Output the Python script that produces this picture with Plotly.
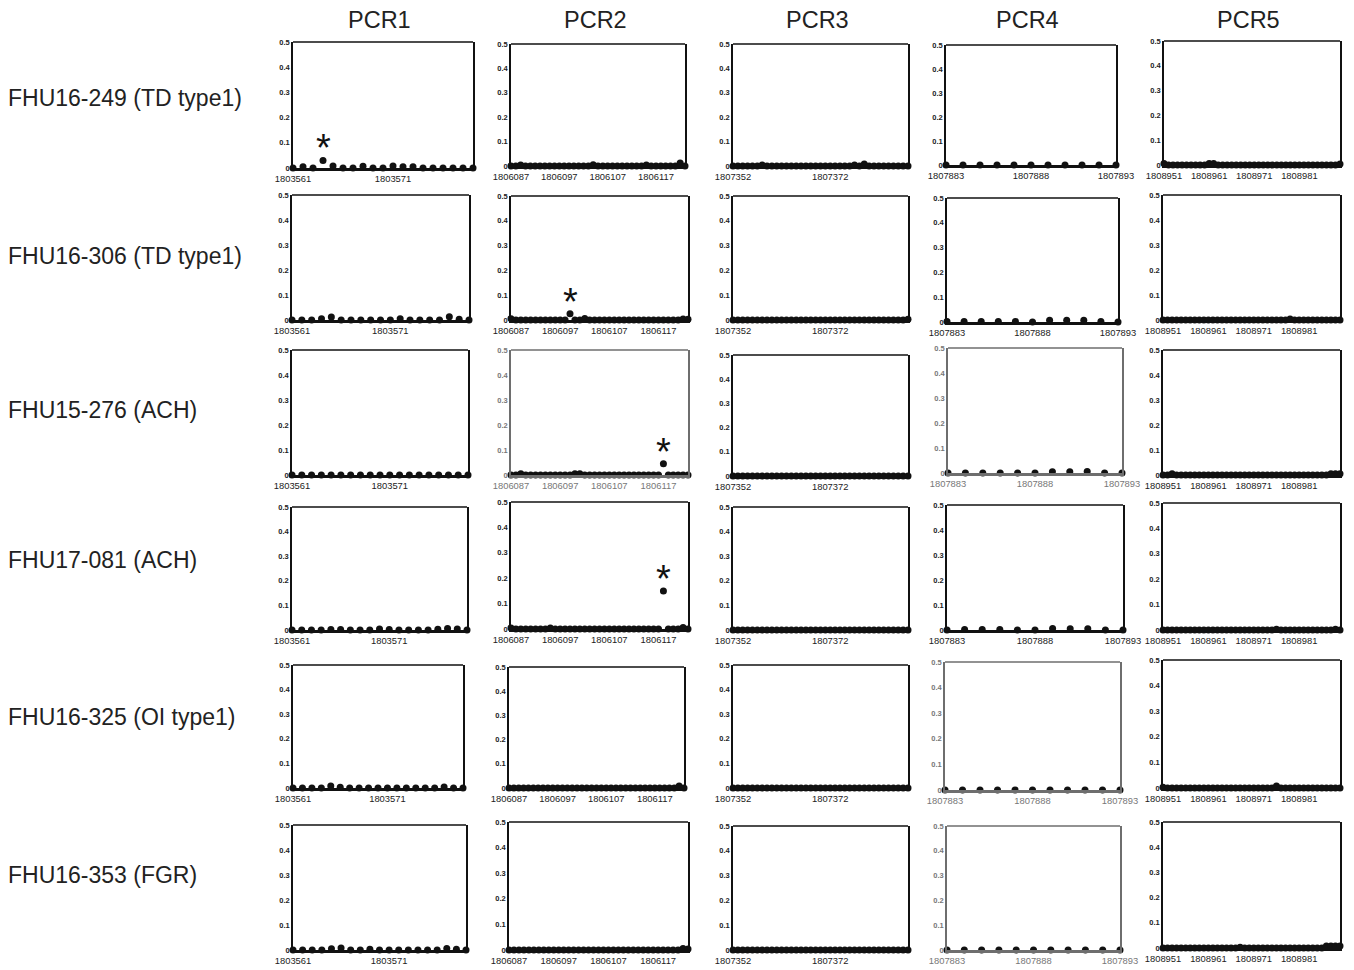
import plotly.graph_objects as go

# ---------------- data ----------------
row_labels = ["FHU16-249 (TD type1)", "FHU16-306 (TD type1)", "FHU15-276 (ACH)",
              "FHU17-081 (ACH)", "FHU16-325 (OI type1)", "FHU16-353 (FGR)"]
col_titles = ["PCR1", "PCR2", "PCR3", "PCR4", "PCR5"]

pos_pcr1 = [1803561, 1803562, 1803563, 1803564, 1803565, 1803566, 1803567, 1803568, 1803569, 1803570,
            1803571, 1803572, 1803573, 1803574, 1803575, 1803576, 1803577, 1803578, 1803579]
pos_pcr2 = [1806087, 1806088, 1806089, 1806090, 1806091, 1806092, 1806093, 1806094, 1806095, 1806096,
            1806097, 1806098, 1806099, 1806100, 1806101, 1806102, 1806103, 1806104, 1806105, 1806106,
            1806107, 1806108, 1806109, 1806110, 1806111, 1806112, 1806113, 1806114, 1806115, 1806116,
            1806117, 1806118, 1806119, 1806120, 1806121, 1806122, 1806123]
pos_pcr3 = [1807352, 1807353, 1807354, 1807355, 1807356, 1807357, 1807358, 1807359, 1807360, 1807361,
            1807362, 1807363, 1807364, 1807365, 1807366, 1807367, 1807368, 1807369, 1807370, 1807371,
            1807372, 1807373, 1807374, 1807375, 1807376, 1807377, 1807378, 1807379, 1807380, 1807381,
            1807382, 1807383, 1807384, 1807385, 1807386, 1807387, 1807388]
pos_pcr4 = [1807883, 1807884, 1807885, 1807886, 1807887, 1807888, 1807889, 1807890, 1807891, 1807892, 1807893]
pos_pcr5 = [1808951, 1808952, 1808953, 1808954, 1808955, 1808956, 1808957, 1808958, 1808959, 1808960,
            1808961, 1808962, 1808963, 1808964, 1808965, 1808966, 1808967, 1808968, 1808969, 1808970,
            1808971, 1808972, 1808973, 1808974, 1808975, 1808976, 1808977, 1808978, 1808979, 1808980,
            1808981, 1808982, 1808983, 1808984, 1808985, 1808986, 1808987, 1808988, 1808989, 1808990]

tick_pcr1 = [1803561, 1803571]
tick_pcr2 = [1806087, 1806097, 1806107, 1806117]
tick_pcr3 = [1807352, 1807372]
tick_pcr4 = [1807883, 1807888, 1807893]
tick_pcr5 = [1808951, 1808961, 1808971, 1808981]

y_ticks = [0, 0.1, 0.2, 0.3, 0.4, 0.5]

# row 1: FHU16-249
r1_pcr1 = [0, 0.005, 0, 0.03, 0.008, 0, 0, 0.007, 0, 0, 0.008, 0.005, 0.005, 0, 0, 0, 0, 0, 0]
r1_pcr2 = [0, 0, 0.004, 0, 0, 0, 0, 0, 0, 0, 0, 0, 0, 0, 0, 0, 0, 0.005, 0, 0,
           0, 0, 0, 0, 0, 0, 0, 0, 0.004, 0, 0, 0, 0, 0, 0, 0.012, 0]
r1_pcr3 = [0, 0, 0, 0, 0, 0, 0.004, 0, 0, 0, 0, 0, 0, 0, 0, 0, 0, 0, 0, 0,
           0, 0, 0, 0, 0, 0.004, 0, 0.008, 0, 0, 0, 0, 0, 0, 0, 0, 0]
r1_pcr4 = [0, 0, 0, 0, 0, 0, 0, 0, 0, 0, 0]
r1_pcr5 = [0.006, 0, 0, 0, 0, 0, 0, 0, 0, 0, 0.006, 0.006, 0, 0, 0, 0, 0, 0, 0, 0,
           0, 0, 0, 0, 0, 0, 0, 0, 0, 0, 0, 0, 0, 0, 0, 0, 0, 0, 0, 0.004]

# row 2: FHU16-306
r2_pcr1 = [0, 0, 0, 0.005, 0.012, 0, 0, 0, 0, 0, 0, 0.005, 0, 0, 0, 0, 0.013, 0.003, 0]
r2_pcr2 = [0.005, 0, 0, 0, 0, 0, 0, 0, 0, 0, 0, 0, 0.025, 0, 0, 0.006, 0, 0, 0, 0,
           0, 0, 0, 0, 0, 0, 0, 0, 0, 0, 0, 0, 0, 0, 0, 0.004, 0.003]
r2_pcr3 = [0, 0, 0, 0, 0, 0, 0, 0, 0, 0, 0, 0, 0, 0, 0, 0, 0, 0, 0, 0,
           0, 0, 0, 0, 0, 0, 0, 0, 0, 0, 0, 0, 0, 0, 0, 0, 0.003]
r2_pcr4 = [0.002, 0.002, 0.002, 0.002, 0.002, 0, 0.007, 0.007, 0.007, 0.002, 0]
r2_pcr5 = [0, 0, 0, 0, 0, 0, 0, 0, 0, 0, 0, 0, 0, 0, 0, 0, 0, 0, 0, 0,
           0, 0, 0, 0, 0, 0, 0, 0, 0.004, 0, 0, 0, 0, 0, 0, 0, 0, 0, 0, 0]

# row 3: FHU15-276
r3_pcr1 = [0, 0, 0, 0, 0, 0, 0, 0, 0, 0, 0, 0, 0, 0, 0, 0, 0, 0, 0]
r3_pcr2 = [0, 0, 0.005, 0, 0, 0, 0, 0, 0, 0, 0, 0, 0, 0.005, 0.005, 0, 0, 0, 0, 0,
           0, 0, 0, 0, 0, 0, 0, 0, 0, 0, 0, 0.045, 0, 0, 0, 0, 0]
r3_pcr3 = [0, 0, 0, 0, 0, 0, 0, 0, 0, 0, 0, 0, 0, 0, 0, 0, 0, 0, 0, 0,
           0, 0, 0, 0, 0, 0, 0, 0, 0, 0, 0, 0, 0, 0, 0, 0, 0]
r3_pcr4 = [0, 0, 0, 0, 0, 0, 0.005, 0.005, 0.006, 0, 0]
r3_pcr5 = [0, 0, 0.005, 0, 0, 0, 0, 0, 0, 0, 0, 0, 0, 0, 0, 0, 0, 0, 0, 0,
           0, 0, 0, 0, 0, 0, 0, 0, 0, 0, 0, 0, 0, 0, 0, 0, 0, 0.005, 0.005, 0.005]

# row 4: FHU17-081
r4_pcr1 = [0, 0, 0, 0, 0.002, 0.002, 0, 0, 0, 0.004, 0.002, 0, 0, 0, 0, 0.003, 0.006, 0.004, 0]
r4_pcr2 = [0.004, 0, 0, 0, 0, 0, 0, 0, 0.004, 0, 0, 0, 0, 0, 0, 0, 0, 0, 0, 0,
           0, 0, 0, 0, 0, 0, 0, 0, 0, 0, 0, 0.15, 0, 0, 0, 0.006, 0]
r4_pcr3 = [0, 0, 0, 0, 0, 0, 0, 0, 0, 0, 0, 0, 0, 0, 0, 0, 0, 0, 0, 0,
           0, 0, 0, 0, 0, 0, 0, 0, 0, 0, 0, 0, 0, 0, 0, 0, 0]
r4_pcr4 = [0, 0.002, 0.002, 0.002, 0, 0, 0.006, 0.005, 0.005, 0, 0]
r4_pcr5 = [0, 0, 0, 0, 0, 0, 0, 0, 0, 0, 0, 0, 0, 0, 0, 0, 0, 0, 0, 0,
           0, 0, 0, 0, 0, 0.003, 0, 0, 0, 0, 0, 0, 0, 0, 0, 0, 0, 0, 0.003, 0]

# row 5: FHU16-325
r5_pcr1 = [0, 0, 0, 0, 0.008, 0.003, 0, 0, 0, 0, 0, 0, 0, 0, 0, 0, 0.004, 0, 0]
r5_pcr2 = [0, 0, 0, 0, 0, 0, 0, 0, 0, 0, 0, 0, 0, 0, 0, 0, 0, 0, 0, 0,
           0, 0, 0, 0, 0, 0, 0, 0, 0, 0, 0, 0, 0, 0, 0, 0.008, 0]
r5_pcr3 = [0, 0, 0, 0, 0, 0, 0, 0, 0, 0, 0, 0, 0, 0, 0, 0, 0, 0, 0, 0,
           0, 0, 0, 0, 0, 0, 0, 0, 0, 0, 0, 0, 0, 0, 0, 0, 0]
r5_pcr4 = [0, 0, 0, 0, 0, 0, 0, 0, 0, 0, 0]
r5_pcr5 = [0.003, 0, 0, 0, 0, 0, 0, 0, 0, 0, 0, 0, 0, 0, 0, 0, 0, 0, 0, 0,
           0, 0, 0, 0, 0, 0.008, 0, 0, 0, 0, 0, 0, 0, 0, 0, 0, 0, 0, 0, 0]

# row 6: FHU16-353
r6_pcr1 = [0, 0, 0, 0, 0.005, 0.008, 0, 0, 0.003, 0, 0, 0, 0, 0, 0, 0, 0.006, 0.003, 0]
r6_pcr2 = [0, 0, 0, 0, 0, 0, 0, 0, 0, 0, 0, 0, 0, 0, 0, 0, 0, 0, 0, 0,
           0, 0, 0, 0, 0, 0, 0, 0, 0, 0, 0, 0, 0, 0, 0, 0.006, 0.004]
r6_pcr3 = [0, 0, 0, 0, 0, 0, 0, 0, 0, 0, 0, 0, 0, 0, 0, 0, 0, 0, 0, 0,
           0, 0, 0, 0, 0, 0, 0, 0, 0, 0, 0, 0, 0, 0, 0, 0, 0]
r6_pcr4 = [0, 0, 0, 0, 0, 0, 0, 0, 0, 0, 0]
r6_pcr5 = [0, 0, 0, 0, 0, 0, 0, 0, 0, 0, 0, 0, 0, 0, 0, 0, 0, 0.003, 0, 0,
           0, 0, 0, 0, 0, 0, 0, 0, 0, 0, 0, 0, 0, 0, 0, 0, 0.008, 0.008, 0.008, 0.008]

# significant points marked with an asterisk: (row, column, position)
star_points = [(0, 0, 1803564), (1, 1, 1806099), (2, 1, 1806118), (3, 1, 1806118)]

positions = [pos_pcr1, pos_pcr2, pos_pcr3, pos_pcr4, pos_pcr5]
ticks = [tick_pcr1, tick_pcr2, tick_pcr3, tick_pcr4, tick_pcr5]
values = [
    [r1_pcr1, r1_pcr2, r1_pcr3, r1_pcr4, r1_pcr5],
    [r2_pcr1, r2_pcr2, r2_pcr3, r2_pcr4, r2_pcr5],
    [r3_pcr1, r3_pcr2, r3_pcr3, r3_pcr4, r3_pcr5],
    [r4_pcr1, r4_pcr2, r4_pcr3, r4_pcr4, r4_pcr5],
    [r5_pcr1, r5_pcr2, r5_pcr3, r5_pcr4, r5_pcr5],
    [r6_pcr1, r6_pcr2, r6_pcr3, r6_pcr4, r6_pcr5],
]

# ---------------- layout (pixel boxes: left, right, top, bottom) ----------------
W, H = 1354, 970
boxes = [
    [(293, 473, 42, 168), (511, 685, 44, 166), (733, 908, 44, 166), (946, 1116, 45, 165), (1164, 1340, 41, 165)],
    [(292, 469, 195, 320), (511, 688, 196, 320), (733, 908, 196, 320), (947, 1118, 198, 322), (1163, 1340, 195, 320)],
    [(292, 468, 350, 475), (511, 688, 350, 475), (733, 908, 355, 476), (948, 1122, 348, 473), (1163, 1340, 350, 475)],
    [(292, 467, 507, 630), (511, 688, 502, 629), (733, 908, 507, 630), (947, 1123, 505, 630), (1163, 1340, 503, 630)],
    [(293, 463, 665, 788), (509, 684, 667, 788), (733, 908, 665, 788), (945, 1120, 662, 790), (1163, 1340, 660, 788)],
    [(293, 466, 825, 950), (509, 688, 822, 950), (733, 908, 826, 950), (947, 1120, 826, 950), (1163, 1340, 822, 948)],
]
faded = {(2, 1), (2, 3), (4, 3), (5, 3)}
row_label_y = [98, 256, 410, 560, 717, 875]
col_title_x = [379, 595, 817, 1027, 1248]

FONT = "Liberation Sans, Arial, sans-serif"
fig = go.Figure()
layout = dict(width=W, height=H, autosize=False, margin=dict(l=0, r=0, t=0, b=0, pad=0, autoexpand=False),
              paper_bgcolor="white", plot_bgcolor="white", showlegend=False,
              font=dict(family=FONT, color="#111"))
annotations = []
shapes = []

n = 0
for r in range(6):
    for c in range(5):
        n += 1
        sfx = "" if n == 1 else str(n)
        l, rgt, t, b = boxes[r][c]
        fade = (r, c) in faded
        lc = "#6e6e6e" if fade else "#111"
        tc = "#777" if fade else "#222"
        xs = positions[c]
        ys = values[r][c]
        fig.add_trace(go.Scatter(x=xs, y=ys, mode="markers", xaxis="x" + sfx, yaxis="y" + sfx,
                                 marker=dict(size=7, color="#111"), cliponaxis=False,
                                 hoverinfo="x+y"))
        layout["xaxis" + sfx] = dict(
            domain=[l / W, rgt / W], anchor="y" + sfx, range=[xs[0], xs[-1]],
            tickvals=ticks[c], ticktext=[str(v) for v in ticks[c]],
            tickfont=dict(size=9.4, color=tc, family=FONT), ticks="", ticklen=0,
            showgrid=False, zeroline=False, showline=True, linewidth=2.8, linecolor=lc,
            mirror=False, fixedrange=True, automargin=False)
        layout["yaxis" + sfx] = dict(
            domain=[1 - b / H, 1 - t / H], anchor="x" + sfx, range=[0, 0.5],
            tickvals=y_ticks, ticktext=["0", "0.1", "0.2", "0.3", "0.4", "0.5"],
            tickfont=dict(size=7.5, color=tc, family=FONT, weight="bold"), ticks="",
            showgrid=False, zeroline=False, showline=True, linewidth=1.6, linecolor=lc,
            mirror=True, fixedrange=True, automargin=False)
        shapes.append(dict(type="line", xref="x" + sfx + " domain", yref="y" + sfx + " domain",
                           x0=0, x1=1, y0=1, y1=1, line=dict(color=lc, width=1.6)))
        for (sr, sc, sx) in star_points:
            if sr == r and sc == c:
                sy = ys[xs.index(sx)]
                annotations.append(dict(x=sx, y=sy, xref="x" + sfx, yref="y" + sfx, text="*",
                                        showarrow=False, yanchor="bottom", xanchor="center",
                                        yshift=-11, font=dict(size=38, color="#111", family=FONT)))

for i, lab in enumerate(row_labels):
    annotations.append(dict(x=6 / W, y=1 - row_label_y[i] / H, xref="paper", yref="paper",
                            text=lab, showarrow=False, xanchor="left", yanchor="middle",
                            font=dict(size=23, color="#222", family=FONT)))
for i, tit in enumerate(col_titles):
    annotations.append(dict(x=col_title_x[i] / W, y=1 - 20 / H, xref="paper", yref="paper",
                            text=tit, showarrow=False, xanchor="center", yanchor="middle",
                            font=dict(size=23.5, color="#222", family=FONT)))

layout["annotations"] = annotations
layout["shapes"] = shapes
fig.update_layout(**layout)
fig.write_html("out.html", config={"responsive": False, "displayModeBar": False},
               post_script="document.body.style.margin='0';document.body.style.overflow='hidden';")
